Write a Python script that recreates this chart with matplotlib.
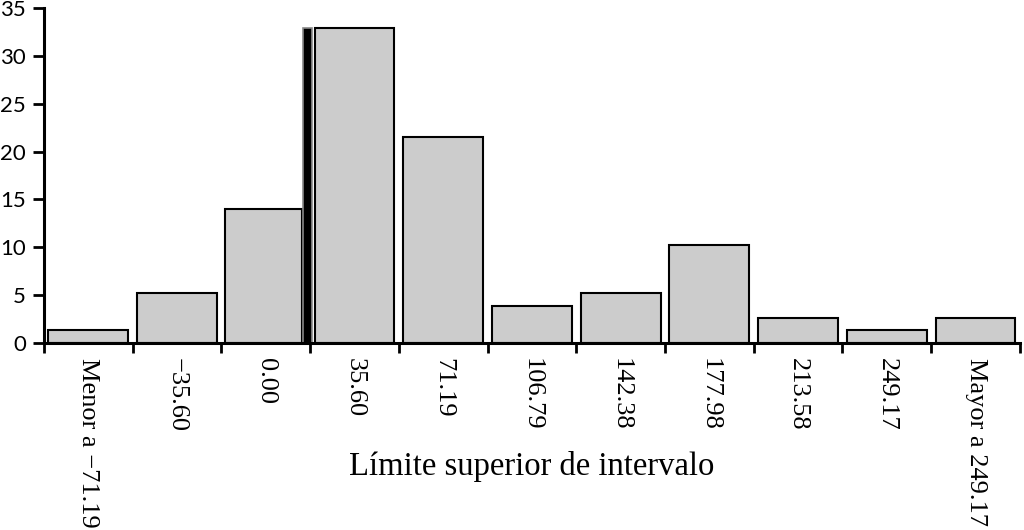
import matplotlib
matplotlib.use("Agg")
import matplotlib.pyplot as plt
import numpy as np

categories = ["Menor a \u221271.19", "\u221235.60", "0.00", "35.60", "71.19", "106.79",
              "142.38", "177.98", "213.58", "249.17", "Mayor a 249.17"]
values = [1.3, 5.2, 14.0, 32.9, 21.5, 3.9, 5.2, 10.2, 2.6, 1.3, 2.6]
marker_value = 32.9
marker_slot = 2  # the black marker bar sits at the right edge of the "0.00" slot
y_ticks = [0, 5, 10, 15, 20, 25, 30, 35]
x_title = "L\u00edmite superior de intervalo"

fig = plt.figure(figsize=(10.24, 5.30), dpi=100)
ax = fig.add_axes([0.043, 0.353, 0.953, 0.632])

x = np.arange(len(categories))
widths = np.full(len(categories), 0.9)
centers = x.astype(float).copy()
widths[marker_slot] = 0.87
centers[marker_slot] = marker_slot + 0.41 - 0.87 / 2
ax.bar(centers, values, width=widths, color="#cccccc", edgecolor="black", linewidth=1.5)
ax.bar(marker_slot + 0.465, marker_value, width=0.1, color="black", edgecolor="#888888", linewidth=1.2)

ax.set_xlim(-0.5, len(categories) - 0.5)
ax.set_ylim(0, 35)
ax.set_yticks(y_ticks)
ax.set_yticklabels([str(v) for v in y_ticks], fontfamily="Lato", fontsize=16)

ax.set_xticks(np.arange(len(categories) + 1) - 0.5)
ax.set_xticklabels([])
ax.set_xticks(x, minor=True)
ax.set_xticklabels(categories, minor=True, rotation=270, fontfamily="Liberation Serif",
                   fontsize=19, va="top", ha="center")
ax.tick_params(axis="x", which="minor", length=0, pad=11)
ax.tick_params(axis="x", which="major", length=7, width=2, direction="out")
ax.tick_params(axis="y", which="major", length=8, width=2, direction="out", pad=5)

for s in ["top", "right"]:
    ax.spines[s].set_visible(False)
for s in ["left", "bottom"]:
    ax.spines[s].set_linewidth(2.2)

ax.set_xlabel(x_title, fontfamily="Liberation Serif", fontsize=23.5)
ax.xaxis.set_label_coords(0.55 - 0.05, -0.37)
ax.xaxis.label.set_va("center")

fig.savefig("out.png", dpi=100)
